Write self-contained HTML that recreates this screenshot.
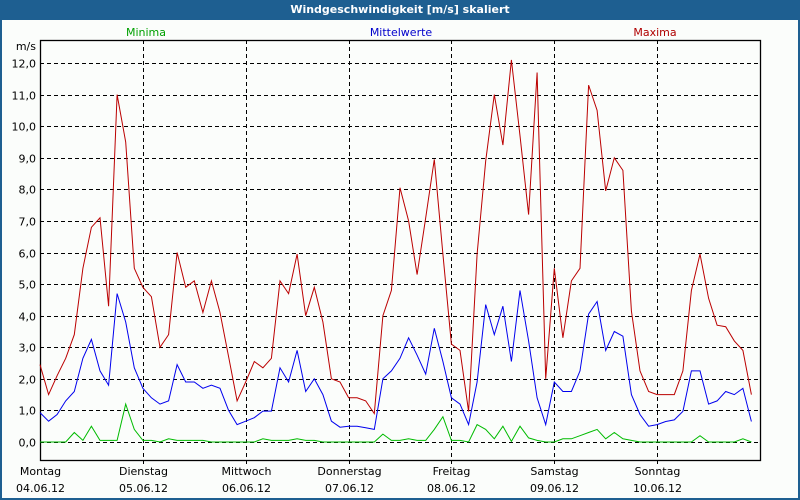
<!DOCTYPE html>
<html><head><meta charset="utf-8"><style>
body{margin:0;width:800px;height:500px;overflow:hidden;font-family:"DejaVu Sans","Liberation Sans",sans-serif;}
#win{position:absolute;left:0;top:0;width:796px;height:478px;border:2px solid #1e5f91;border-top:20px solid #1e5f91;background:#fbfdfb;}
#title{position:absolute;left:0;top:0;width:800px;height:20px;line-height:20px;text-align:center;color:#fff;font-weight:bold;font-size:11px;}
svg{position:absolute;left:0;top:0}
svg text{font-family:"DejaVu Sans","Liberation Sans",sans-serif;font-size:11px}
</style></head><body>
<div id="win"></div>
<div id="title">Windgeschwindigkeit [m/s] skaliert</div>
<svg id="chart" width="800" height="500"></svg>
<script>
const dayNames=["Montag","Dienstag","Mittwoch","Donnerstag","Freitag","Samstag","Sonntag"];
const dayDates=["04.06.12","05.06.12","06.06.12","07.06.12","08.06.12","09.06.12","10.06.12"];
const yTicks=[0,1,2,3,4,5,6,7,8,9,10,11,12];
const maxima=[2.45,1.5,2.1,2.65,3.4,5.5,6.8,7.1,4.3,11.0,9.5,5.5,4.9,4.6,3.0,3.4,6.0,4.9,5.1,4.1,5.1,4.1,2.7,1.3,1.9,2.55,2.35,2.65,5.1,4.7,5.95,4.0,4.9,3.8,2.0,1.9,1.4,1.4,1.3,0.9,4.0,4.8,8.05,7.0,5.3,7.1,8.95,5.95,3.1,2.9,0.97,5.95,8.9,11.0,9.4,12.1,9.7,7.2,11.7,2.0,5.5,3.3,5.1,5.5,11.3,10.5,7.95,9.0,8.6,4.15,2.25,1.6,1.5,1.5,1.5,2.25,4.8,5.95,4.55,3.7,3.65,3.2,2.9,1.5];
const mittel=[0.93,0.66,0.87,1.3,1.6,2.65,3.25,2.25,1.8,4.7,3.8,2.35,1.7,1.4,1.2,1.3,2.45,1.9,1.9,1.7,1.8,1.7,1.0,0.55,0.66,0.77,0.98,0.98,2.35,1.9,2.9,1.6,2.0,1.5,0.66,0.47,0.5,0.5,0.45,0.4,2.0,2.25,2.65,3.3,2.75,2.15,3.6,2.55,1.4,1.2,0.55,1.9,4.35,3.4,4.3,2.55,4.8,3.2,1.4,0.55,1.9,1.6,1.6,2.25,4.05,4.45,2.9,3.5,3.35,1.5,0.87,0.5,0.55,0.65,0.7,0.97,2.25,2.25,1.2,1.3,1.6,1.5,1.7,0.65];
const minima=[0,0,0,0,0.3,0.05,0.5,0.05,0.05,0.05,1.2,0.4,0.05,0.05,0,0.1,0.05,0.05,0.05,0.05,0,0,0,0,0,0,0.1,0.05,0.05,0.05,0.1,0.05,0.05,0,0,0,0,0,0,0,0.25,0.05,0.05,0.1,0.05,0.05,0.4,0.8,0.05,0.05,0,0.55,0.4,0.1,0.5,0.02,0.5,0.13,0.05,0,0,0.1,0.1,0.2,0.3,0.4,0.1,0.3,0.1,0.05,0,0,0,0,0,0,0,0.2,0,0,0,0,0.1,0];
const hoursPerPoint=2;
const L=40,T=40,R=760,B=460;
const xScale=h=>L+h*(R-L)/(7*24);
const yScale=v=>442-v*31.58;
const svg=document.getElementById('chart');
const NS='http://www.w3.org/2000/svg';
function mk(t,a){const e=document.createElementNS(NS,t);for(const k in a)e.setAttribute(k,a[k]);svg.appendChild(e);return e;}
yTicks.forEach(v=>{
  const y=Math.round(yScale(v))+0.5;
  const g=mk('line',{x1:L,x2:R,y1:y,y2:y,stroke:'#000','stroke-dasharray':'4,3','stroke-width':1});
  
  
  const t=mk('text',{x:36,y:y+4,'text-anchor':'end',fill:'#000'});
  t.textContent=v.toFixed(1).replace('.',',');
  
  
});
dayNames.forEach((d,i)=>{
  const x=Math.round(xScale(i*24))+0.5;
  if(i>0){
    const g=mk('line',{x1:x,x2:x,y1:T,y2:B+7,stroke:'#000','stroke-dasharray':'4,3'});
    
    
  }
  const t1=mk('text',{x:x,y:475,'text-anchor':'middle',fill:'#000'});
  t1.textContent=d;
  
  
  const t2=mk('text',{x:x,y:492,'text-anchor':'middle',fill:'#000'});
  t2.textContent=dayDates[i];
  
  
});
const frame=mk('rect',{x:40.5,y:40.5,width:720,height:420,fill:'none',stroke:'#000','stroke-width':1.3});


const unit=mk('text',{x:36,y:50,'text-anchor':'end',fill:'#000'});
unit.textContent='m/s';


function series(arr,color,name){
  const pts=arr.map((v,i)=>xScale(i*hoursPerPoint).toFixed(1)+','+yScale(v).toFixed(1)).join(' ');
  const p=mk('polyline',{points:pts,fill:'none',stroke:color,'stroke-width':1});
  
  
}
series(minima,'#00bb00','minima-line');
series(mittel,'#0000ee','mittelwerte-line');
series(maxima,'#bb0000','maxima-line');
[['Minima',146,'#00a000','legend-minima'],['Mittelwerte',401,'#0000cc','legend-mittelwerte'],['Maxima',655,'#b00000','legend-maxima']].forEach(l=>{
  const t=mk('text',{x:l[1],y:36,'text-anchor':'middle',fill:l[2]});
  t.textContent=l[0];
  
  
});
</script>
</body></html>
